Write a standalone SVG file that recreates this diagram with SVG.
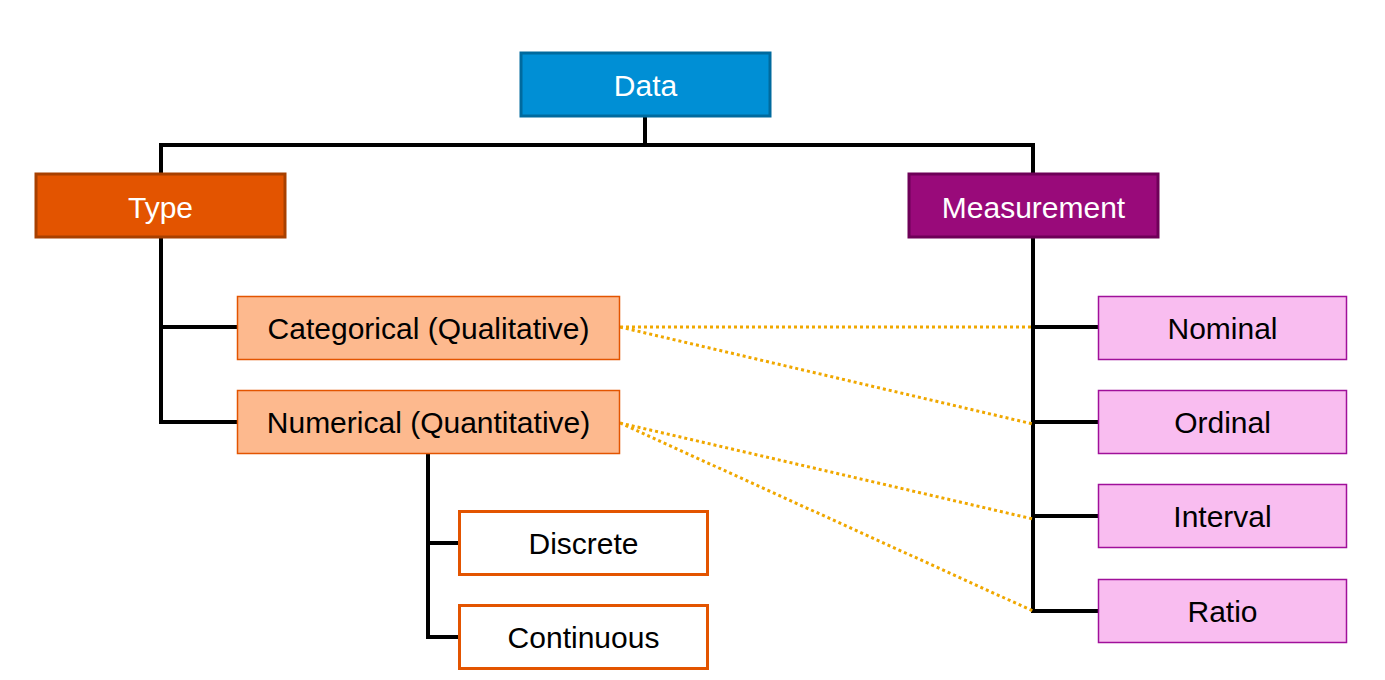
<svg xmlns="http://www.w3.org/2000/svg" width="1385" height="680" viewBox="0 0 1385 680">
<style>
text{font-family:"Liberation Sans",Arial,sans-serif;font-size:30px;text-anchor:middle}
.w{fill:#ffffff}
.k{fill:#000000}
.tree{stroke:#000;stroke-width:4;fill:none;stroke-linecap:square}
.dot{stroke:#f0a800;stroke-width:3;stroke-dasharray:3 3;fill:none}
.sub{fill:#fdb98e;stroke:#e35400;stroke-width:1.5}
.leaf{fill:#ffffff;stroke:#e35400;stroke-width:3}
.pink{fill:#f9bdf0;stroke:#a0109a;stroke-width:1.5}
</style>
<rect width="1385" height="680" fill="#ffffff"/>
<g id="connectors">
<path class="tree" d="M645 117V145M161 145H1033M161 145V174M1033 145V174"/>
<path class="tree" d="M161 238V422M161 327H237M161 422H237"/>
<path class="tree" d="M428 453V637M428 543H459M428 637H459"/>
<path class="tree" d="M1033 238V611M1033 327H1098M1033 422H1098M1033 516H1098M1033 611H1098"/>
<path class="dot" d="M620 327H1033M620 327L1033 424M620 423L1033 519M620 423L1033 611"/>
</g>
<g id="data"><rect x="521" y="53" width="249" height="63" fill="#008fd5" stroke="#006a9e" stroke-width="3"/><text class="w" x="645.5" y="95.5">Data</text></g>
<g id="type"><rect x="36" y="174" width="249" height="63" fill="#e35400" stroke="#a84000" stroke-width="3"/><text class="w" x="160.5" y="217.5">Type</text></g>
<g id="measurement"><rect x="909" y="174" width="249" height="63" fill="#990a7a" stroke="#6e0058" stroke-width="3"/><text class="w" x="1033.5" y="217.5">Measurement</text></g>
<g id="categorical"><rect class="sub" x="237.5" y="296.5" width="382" height="63"/><text class="k" x="428.5" y="338.5">Categorical (Qualitative)</text></g>
<g id="numerical"><rect class="sub" x="237.5" y="390.5" width="382" height="63"/><text class="k" x="428.5" y="432.5">Numerical (Quantitative)</text></g>
<g id="discrete"><rect class="leaf" x="459.5" y="511.5" width="248" height="63"/><text class="k" x="583.5" y="553.5">Discrete</text></g>
<g id="continuous"><rect class="leaf" x="459.5" y="605.5" width="248" height="63"/><text class="k" x="583.5" y="647.5">Continuous</text></g>
<g id="nominal"><rect class="pink" x="1098.5" y="296.5" width="248" height="63"/><text class="k" x="1222.5" y="338.5">Nominal</text></g>
<g id="ordinal"><rect class="pink" x="1098.5" y="390.5" width="248" height="63"/><text class="k" x="1222.5" y="432.5">Ordinal</text></g>
<g id="interval"><rect class="pink" x="1098.5" y="484.5" width="248" height="63"/><text class="k" x="1222.5" y="526.5">Interval</text></g>
<g id="ratio"><rect class="pink" x="1098.5" y="579.5" width="248" height="63"/><text class="k" x="1222.5" y="621.5">Ratio</text></g>
</svg>
